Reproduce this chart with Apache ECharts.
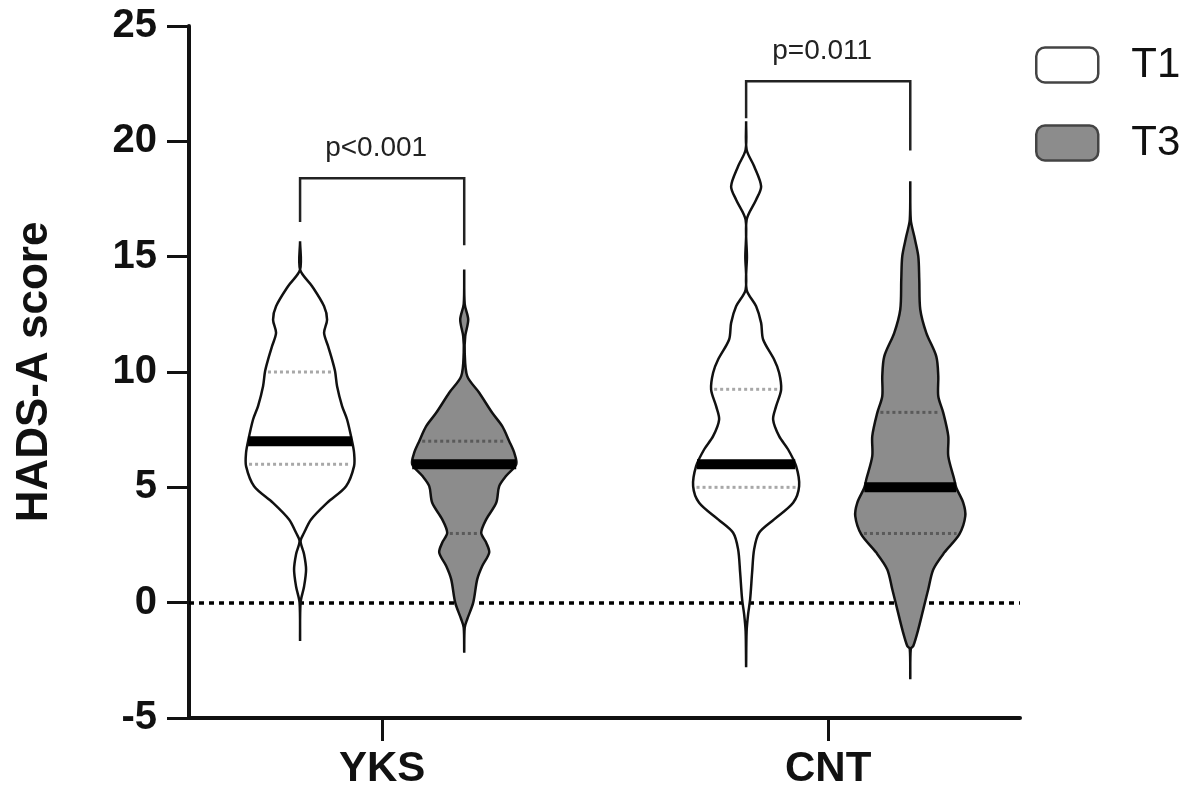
<!DOCTYPE html>
<html><head><meta charset="utf-8">
<script src="https://cdn.jsdelivr.net/npm/echarts@6/dist/echarts.min.js"></script>
<style>html,body{margin:0;padding:0;background:#fff}#chart{width:1199px;height:790px}</style>
</head><body><div id="chart"></div>
<script>
// ---------- DATA ----------
const categories = ['YKS', 'CNT'];
const timepoints = ['T1', 'T3'];

// Violin density profiles: [HADS-A score, relative density (arbitrary units)]
const yksT1Profile = [[-1.66,0],[0,0.5],[0.7,4],[1.44,6],[2.1,4],[2.67,0.5],[3.03,4],[3.61,11],[4.33,27],[5.05,46],[5.92,54],[6.5,54],[7.0,52],[7.94,47],[8.52,42],[9.38,37],[10.03,35],[10.54,32],[11.12,28],[11.7,24],[12.27,27],[12.85,24],[13.72,12],[14.44,0],[15.67,0]];
const yksT3Profile = [[-2.17,0],[-1.08,0.5],[-0.72,3],[0,9],[1.01,13],[1.59,18],[2.17,25],[2.6,22],[3.03,17],[3.61,22],[4.33,32],[5.05,35],[5.5,42],[6.0,52],[6.5,50],[7.0,45],[7.65,38],[8.23,28],[9.1,15],[9.82,3],[10.83,0.5],[11.55,1],[12.27,4],[12.94,0.5],[14.44,0]];
const cntT1Profile = [[-2.8,0],[-1.24,0.5],[-0.5,2],[0.14,4],[1.31,6],[2.31,8],[3.03,13],[3.61,28],[4.33,47],[5.05,53],[5.92,50],[6.64,42],[7.22,33],[7.94,27],[8.52,30],[9.24,35],[9.97,33],[10.54,28],[11.41,17],[12.13,15],[12.85,10],[13.57,0.5],[15.0,0.8],[16.6,0.5],[17.47,10],[18.05,15],[18.92,8],[19.64,0.5],[20.87,0]];
const cntT3Profile = [[-3.32,0],[-2.0,0.5],[-1.88,3],[-1.16,8],[-0.29,13],[0.58,18],[1.44,23],[2.17,34],[2.96,49],[3.75,55],[4.33,53],[4.98,46],[5.34,44],[6.35,38],[7.22,38],[8.23,33],[8.95,28],[9.82,28],[10.68,26],[11.7,16],[12.71,10],[14.0,9],[15.02,8],[15.88,4],[16.6,0.5],[18.27,0]];

const t1Median = [7, 6];
const t1Q1 = [6, 5];
const t1Q3 = [10, 9.25];
const t3Median = [6, 5];
const t3Q1 = [3, 3];
const t3Q3 = [7, 8.25];

// Significance brackets (score units) and labels
const bracketTop = [18.4, 22.6];
const bracketLeftEnd = [16.5, 21.0];
const bracketRightEnd = [15.5, 19.6];
const pLabels = ['p<0.001', 'p=0.011'];

// ---------- STYLE ----------
const FONT = "'Liberation Sans', Arial, Helvetica, sans-serif";
const GROUP_OFFSET = 0.184;      // x-units from category centre
const DENS_SCALE = 1 / 446;      // x-units per density unit
const T1_FILL = '#ffffff', T3_FILL = '#8c8c8c';

function hwAt(prof, val) {
  for (let k = 0; k < prof.length - 1; k++) {
    const a = prof[k], b = prof[k + 1];
    if (val >= a[0] && val <= b[0]) {
      const t = (val - a[0]) / (b[0] - a[0] || 1);
      return a[1] + t * (b[1] - a[1]);
    }
  }
  return 0;
}

function violinRender(profiles, med, q1, q3, fill, qColor, offset) {
  return function (params, api) {
    const i = params.dataIndex;
    const cx = api.value(0) + offset;
    const prof = profiles[i];
    const right = prof.map(p => api.coord([cx + p[1] * DENS_SCALE, p[0]]));
    const left = prof.slice().reverse().map(p => api.coord([cx - p[1] * DENS_SCALE, p[0]]));
    const children = [{
      type: 'polygon',
      shape: { points: right.concat(left), smooth: 0.3 },
      style: { fill: fill, stroke: '#111', lineWidth: 2.5 }
    }];
    function hline(val, inset, style) {
      const w = Math.max(hwAt(prof, val) - inset, 0);
      const a = api.coord([cx - w * DENS_SCALE, val]);
      const b = api.coord([cx + w * DENS_SCALE, val]);
      return { type: 'line', shape: { x1: a[0], y1: a[1], x2: b[0], y2: b[1] }, style: style };
    }
    children.push(hline(q1[i], 3, { stroke: qColor, lineWidth: 3, lineDash: [3, 3] }));
    children.push(hline(q3[i], 3, { stroke: qColor, lineWidth: 3, lineDash: [3, 3] }));
    children.push(hline(med[i], 0, { stroke: '#000', lineWidth: 10 }));
    return { type: 'group', children: children };
  };
}

function bracketRender(params, api) {
  const i = params.dataIndex;
  const c = api.value(0);
  const xl = c - GROUP_OFFSET, xr = c + GROUP_OFFSET;
  const p1 = api.coord([xl, bracketLeftEnd[i]]);
  const p2 = api.coord([xl, bracketTop[i]]);
  const p3 = api.coord([xr, bracketTop[i]]);
  const p4 = api.coord([xr, bracketRightEnd[i]]);
  return {
    type: 'group',
    children: [
      { type: 'polyline', shape: { points: [p1, p2, p3, p4] }, style: { stroke: '#222', lineWidth: 2.5, fill: null } },
      { type: 'text', x: (p2[0] + p3[0]) / 2 - 6, y: p2[1] - 30,
        style: { text: pLabels[i], font: "28px " + FONT, fill: '#222', align: 'center', verticalAlign: 'middle' } }
    ]
  };
}

const catData = categories.map((c, i) => [i + 1, 0]);

const chart = echarts.init(document.getElementById('chart'), null, { renderer: 'canvas' });
chart.setOption({
  animation: false,
  backgroundColor: '#fff',
  grid: { left: 189, right: 179, top: 26, bottom: 72, containLabel: false },
  legend: {
    orient: 'vertical', left: 1035, top: 44, padding: 0,
    itemWidth: 62, itemHeight: 35, itemGap: 36, icon: 'roundRect',
    textStyle: { fontSize: 42, fontFamily: FONT, color: '#111', lineHeight: 35, padding: [0, 0, 0, 28] },
    data: [
      { name: 'T1', itemStyle: { color: T1_FILL, borderColor: '#444', borderWidth: 2.5 } },
      { name: 'T3', itemStyle: { color: T3_FILL, borderColor: '#444', borderWidth: 2.5 } }
    ]
  },
  xAxis: {
    type: 'value', min: 0.567, max: 2.43,
    splitLine: { show: false },
    axisLine: { show: true, onZero: false, lineStyle: { color: '#111', width: 4 } },
    axisTick: { show: true, customValues: [1, 2], length: 23, lineStyle: { color: '#111', width: 3 } },
    axisLabel: {
      customValues: [1, 2], margin: 30,
      formatter: v => categories[Math.round(v) - 1] || '',
      fontSize: 42, fontWeight: 'bold', fontFamily: FONT, color: '#111'
    }
  },
  yAxis: {
    type: 'value', min: -5, max: 25, interval: 5,
    name: 'HADS-A score', nameLocation: 'middle', nameGap: 132,
    nameTextStyle: { fontSize: 44, fontWeight: 'bold', fontFamily: FONT, color: '#111' },
    splitLine: { show: false },
    axisLine: { show: true, onZero: false, lineStyle: { color: '#111', width: 4 } },
    axisTick: { show: true, length: 22, lineStyle: { color: '#111', width: 3 } },
    axisLabel: { margin: 32, fontSize: 40, fontWeight: 'bold', fontFamily: FONT, color: '#111' }
  },
  series: [
    {
      name: 'T1', type: 'custom', coordinateSystem: 'cartesian2d',
      itemStyle: { color: T1_FILL, borderColor: '#444' },
      data: catData, encode: { x: 0, y: 1 }, z: 3,
      renderItem: violinRender([yksT1Profile, cntT1Profile], t1Median, t1Q1, t1Q3, T1_FILL, '#a8a8a8', -GROUP_OFFSET),
      markLine: {
        silent: true, symbol: 'none', label: { show: false }, z: 2,
        lineStyle: { type: [5, 5], color: '#000', width: 3.5 },
        data: [{ yAxis: 0 }]
      }
    },
    {
      name: 'T3', type: 'custom', coordinateSystem: 'cartesian2d',
      itemStyle: { color: T3_FILL, borderColor: '#444' },
      data: catData, encode: { x: 0, y: 1 }, z: 3,
      renderItem: violinRender([yksT3Profile, cntT3Profile], t3Median, t3Q1, t3Q3, T3_FILL, '#5a5a5a', GROUP_OFFSET)
    },
    {
      name: 'brackets', type: 'custom', coordinateSystem: 'cartesian2d',
      data: catData, encode: { x: 0, y: 1 }, z: 4,
      renderItem: bracketRender
    }
  ]
});
</script></body></html>
